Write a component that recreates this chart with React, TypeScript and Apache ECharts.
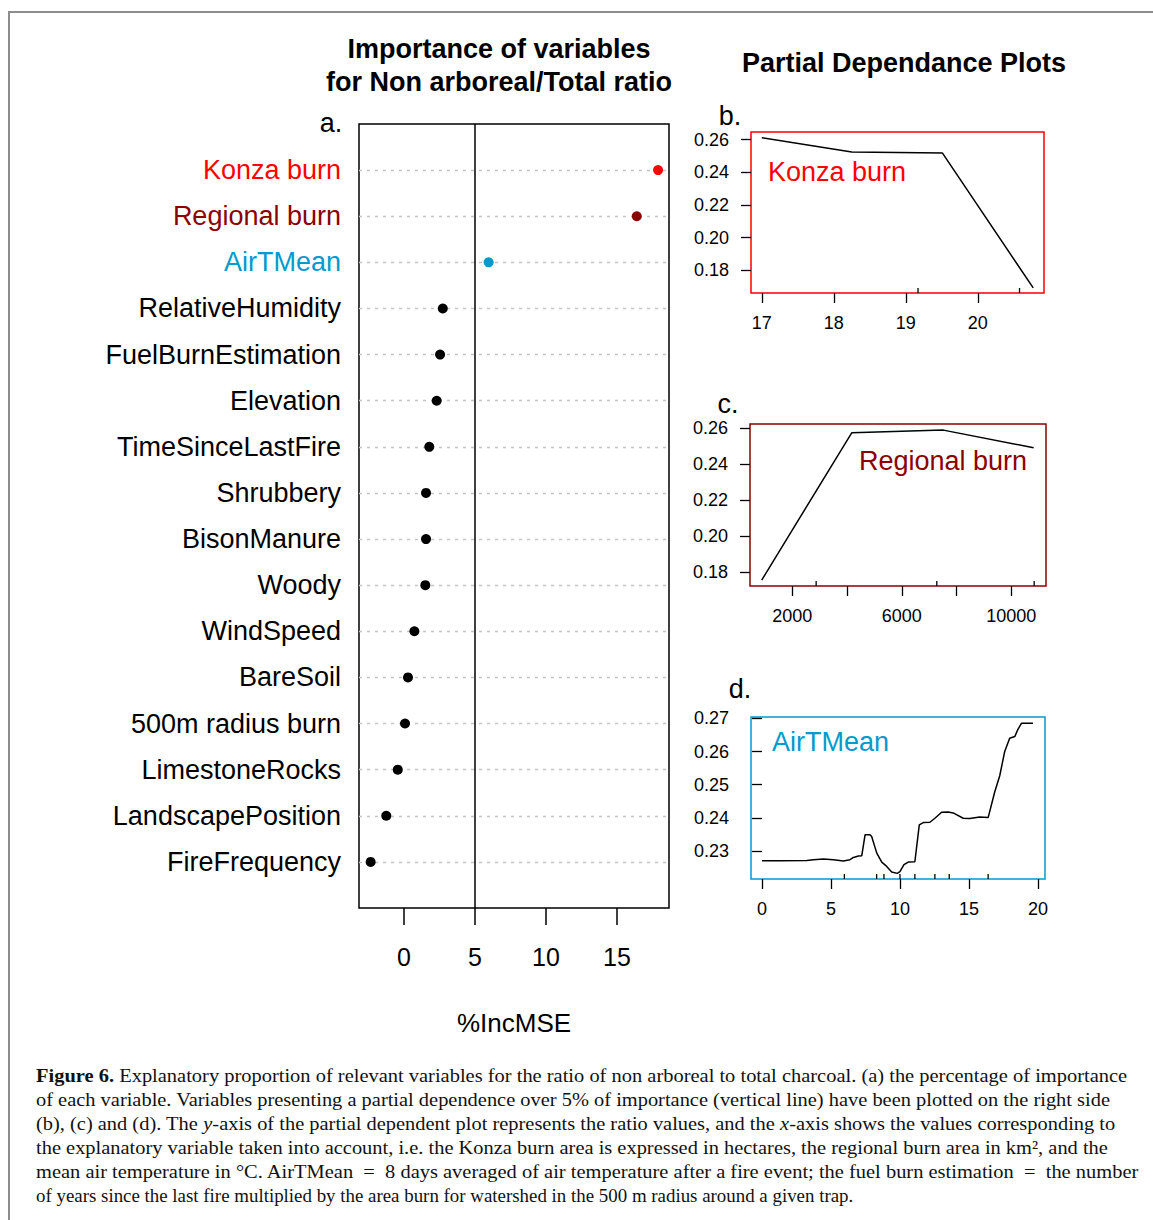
import React, { useEffect, useRef } from "react";
import * as echarts from "echarts";

// ---------- data ----------
const variables = [
  "Konza burn",
  "Regional burn",
  "AirTMean",
  "RelativeHumidity",
  "FuelBurnEstimation",
  "Elevation",
  "TimeSinceLastFire",
  "Shrubbery",
  "BisonManure",
  "Woody",
  "WindSpeed",
  "BareSoil",
  "500m radius burn",
  "LimestoneRocks",
  "LandscapePosition",
  "FireFrequency",
];
const incMSE = [17.89, 16.39, 5.96, 2.73, 2.54, 2.3, 1.78, 1.55, 1.55, 1.5, 0.73, 0.28, 0.07, -0.44, -1.25, -2.35];
const importanceThreshold = 5;
const mainTicks = [0, 5, 10, 15];

// b. Konza burn partial dependence
const konzaX = [17.0, 18.25, 19.51, 20.77];
const konzaY = [0.2612, 0.2524, 0.2518, 0.1692];
const konzaRug = [19.17, 20.58];
const konzaXTicks = [17, 18, 19, 20];
const konzaYTicks = [0.18, 0.2, 0.22, 0.24, 0.26];

// c. Regional burn partial dependence
const regionalX = [880, 4170, 7520, 10820];
const regionalY = [0.1754, 0.2572, 0.2587, 0.2489];
const regionalRug = [2870, 7280, 10840];
const regionalXTicks = [2000, 4000, 6000, 8000, 10000];
const regionalXLabels = [2000, 6000, 10000];
const regionalYTicks = [0.18, 0.2, 0.22, 0.24, 0.26];

// d. AirTMean partial dependence
const airX = [0.0, 1.32, 3.25, 3.73, 4.45, 5.18, 5.9, 6.38, 6.63, 6.99, 7.23, 7.47, 7.83, 7.95, 8.32, 8.68, 9.04, 9.4, 9.81, 10.0, 10.29, 10.6, 11.08, 11.4, 11.69, 12.17, 12.53, 13.02, 13.49, 13.86, 14.58, 15.06, 15.78, 16.39, 16.87, 17.23, 17.59, 17.95, 18.32, 18.55, 18.8, 19.64];
const airY = [0.2271, 0.2271, 0.2272, 0.2274, 0.2276, 0.2274, 0.227, 0.2274, 0.2281, 0.2285, 0.2286, 0.2349, 0.2349, 0.2344, 0.2294, 0.2267, 0.2254, 0.2237, 0.2233, 0.2238, 0.2259, 0.2267, 0.2268, 0.2379, 0.2386, 0.2387, 0.2399, 0.2417, 0.2418, 0.2415, 0.2399, 0.2398, 0.2403, 0.2401, 0.2479, 0.2527, 0.26, 0.264, 0.2645, 0.2667, 0.2685, 0.2685];
const airRug = [5.97, 8.31, 8.84, 10.0, 11.08, 12.53, 13.57, 16.39];
const airXTicks = [0, 5, 10, 15, 20];
const airYTicks = [0.23, 0.24, 0.25, 0.26, 0.27];

const captionLines = [
  "{b|Figure 6.} Explanatory proportion of relevant variables for the ratio of non arboreal to total charcoal. (a) the percentage of importance",
  "of each variable. Variables presenting a partial dependence over 5% of importance (vertical line) have been plotted on the right side",
  "(b), (c) and (d). The {i|y}-axis of the partial dependent plot represents the ratio values, and the {i|x}-axis shows the values corresponding to",
  "the explanatory variable taken into account, i.e. the Konza burn area is expressed in hectares, the regional burn area in km², and the",
  "mean air temperature in °C. AirTMean  =  8 days averaged of air temperature after a fire event; the fuel burn estimation  =  the number",
  "of years since the last fire multiplied by the area burn for watershed in the 500 m radius around a given trap.",
];
// horizontal stretch of each caption line (justified text in the original)
const captionStretch = [1.077, 1.075, 1.075, 1.076, 1.077, 0.995];

// ---------- styles ----------
const SANS = "'Liberation Sans', Arial, Helvetica, sans-serif";
const SERIF = "'Liberation Serif', 'Times New Roman', serif";
const RED = "#ff0000";
const DARKRED = "#8b0000";
const BLUE = "#009acd";
const highlight: Record<string, string> = {
  "Konza burn": RED,
  "Regional burn": DARKRED,
  AirTMean: BLUE,
};
const colorKey: Record<string, string> = { [RED]: "kr", [DARKRED]: "kd", [BLUE]: "kb", "#000000": "kn" };
const colorOf = (name: string) => highlight[name] || "#000000";

const N = variables.length;

// axis ranges (R default 4% expansion)
const mainX = { min: -3.17, max: 18.66 };
const bX = { min: 16.85, max: 20.92 };
const bY = { min: 0.1661, max: 0.2647 };
const cX = { min: 452, max: 11272 };
const cY = { min: 0.1721, max: 0.2621 };
const dX = { min: -0.795, max: 20.51 };
const dY = { min: 0.2216, max: 0.2704 };

const tickLine = { color: "#000", width: 1.3 };

function smallX(gridIndex: number, r: { min: number; max: number }, ticks: number[], labels: number[]) {
  return {
    type: "value",
    gridIndex,
    min: r.min,
    max: r.max,
    axisLine: { show: false },
    splitLine: { show: false },
    axisTick: { show: true, customValues: ticks, length: 10, lineStyle: tickLine },
    axisLabel: {
      show: true,
      customValues: labels,
      margin: 21,
      fontSize: 18,
      color: "#000",
      fontFamily: SANS,
      formatter: (v: number) => String(v),
    },
  };
}
function smallY(gridIndex: number, r: { min: number; max: number }, ticks: number[]) {
  return {
    type: "value",
    gridIndex,
    min: r.min,
    max: r.max,
    axisLine: { show: false },
    splitLine: { show: false },
    axisTick: { show: true, customValues: ticks, length: 10, lineStyle: tickLine },
    axisLabel: {
      show: true,
      customValues: ticks,
      margin: 22,
      fontSize: 18,
      color: "#000",
      fontFamily: SANS,
      formatter: (v: number) => Number(v).toFixed(2),
    },
  };
}
function pdLine(idx: number, xs: number[], ys: number[]) {
  return {
    type: "line",
    xAxisIndex: idx,
    yAxisIndex: idx,
    data: xs.map((x, i) => [x, ys[i]]),
    showSymbol: false,
    symbol: "none",
    lineStyle: { color: "#000", width: 1.5 },
    z: 3,
  };
}
function rug(idx: number, xs: number[], ymin: number) {
  return {
    type: "scatter",
    xAxisIndex: idx,
    yAxisIndex: idx,
    data: xs.map((x) => [x, ymin]),
    symbol: "rect",
    symbolSize: [1.3, 5],
    symbolOffset: [0, -2.5],
    itemStyle: { color: "#000", opacity: 1 },
    clip: false,
  };
}

function buildOption() {
  const richLabel: Record<string, any> = {};
  [RED, DARKRED, BLUE, "#000000"].forEach((c) => {
    richLabel[colorKey[c]] = { color: c, fontSize: 27, fontFamily: SANS };
  });

  const txt = (text: string, x: number, y: number, opts: any = {}) => ({
    type: "text",
    x,
    y,
    style: {
      text,
      fontFamily: SANS,
      fontSize: 27,
      fill: "#000",
      textAlign: "center",
      textVerticalAlign: "middle",
      ...opts,
    },
  });

  const graphic: any[] = [
    {
      type: "rect",
      shape: { x: 9, y: 12, width: 1300, height: 1400 },
      style: { fill: "none", stroke: "#8c8c8c", lineWidth: 2 },
      silent: true,
    },
    txt("Importance of variables", 499, 49, { fontWeight: "bold" }),
    txt("for Non arboreal/Total ratio", 499, 82, { fontWeight: "bold" }),
    txt("Partial Dependance Plots", 904, 63, { fontWeight: "bold" }),
    txt("a.", 331, 123),
    txt("b.", 730, 116),
    txt("c.", 728, 404),
    txt("d.", 740, 689),
    txt("Konza burn", 768, 172, { fill: RED, textAlign: "left" }),
    txt("Regional burn", 859, 461, { fill: DARKRED, textAlign: "left" }),
    txt("AirTMean", 772, 742, { fill: BLUE, textAlign: "left" }),
  ];
  captionLines.forEach((line, i) => {
    graphic.push({
      type: "text",
      x: 36,
      y: 1075 + i * 24,
      scaleX: captionStretch[i],
      style: {
        text: line,
        fontFamily: SERIF,
        fontSize: 19,
        fill: "#111",
        textAlign: "left",
        textVerticalAlign: "middle",
        rich: {
          b: { fontWeight: "bold", fontFamily: SERIF, fontSize: 19, fill: "#111" },
          i: { fontStyle: "italic", fontFamily: SERIF, fontSize: 19, fill: "#111" },
        },
      },
    });
  });

  return {
    animation: false,
    backgroundColor: "#ffffff",
    textStyle: { fontFamily: SANS },
    grid: [
      { left: 359, top: 124, width: 310, height: 784, show: true, borderColor: "#000", borderWidth: 1.5, backgroundColor: "transparent" },
      { left: 751, top: 132, width: 293, height: 161, show: true, borderColor: RED, borderWidth: 1.5, backgroundColor: "transparent" },
      { left: 750, top: 424, width: 296, height: 162, show: true, borderColor: DARKRED, borderWidth: 1.5, backgroundColor: "transparent" },
      { left: 751, top: 717, width: 294, height: 162, show: true, borderColor: BLUE, borderWidth: 1.5, backgroundColor: "transparent" },
    ],
    xAxis: [
      {
        type: "value",
        gridIndex: 0,
        min: mainX.min,
        max: mainX.max,
        axisLine: { show: false },
        splitLine: { show: false },
        axisTick: { show: true, customValues: mainTicks, length: 17, lineStyle: { color: "#000", width: 1.5 } },
        axisLabel: { show: true, customValues: mainTicks, margin: 36, fontSize: 25, color: "#000", fontFamily: SANS },
        name: "%IncMSE",
        nameLocation: "middle",
        nameGap: 102,
        nameTextStyle: { fontSize: 26, color: "#000", fontFamily: SANS },
      },
      smallX(1, bX, konzaXTicks, konzaXTicks),
      smallX(2, cX, regionalXTicks, regionalXLabels),
      smallX(3, dX, airXTicks, airXTicks),
    ],
    yAxis: [
      {
        type: "value",
        gridIndex: 0,
        min: 0,
        max: N + 1,
        interval: 1,
        axisLine: { show: false },
        axisTick: { show: false },
        splitLine: { show: false },
        axisLabel: {
          show: true,
          margin: 18,
          fontSize: 27,
          fontFamily: SANS,
          formatter: (v: number) => {
            const i = N - Math.round(v);
            if (i < 0 || i >= N) return "";
            const name = variables[i];
            return `{${colorKey[colorOf(name)]}|${name}}`;
          },
          rich: richLabel,
        },
      },
      smallY(1, bY, konzaYTicks),
      smallY(2, cY, regionalYTicks),
      smallY(3, dY, airYTicks),
    ],
    series: [
      {
        // dotted row guides + importance threshold line
        type: "line",
        xAxisIndex: 0,
        yAxisIndex: 0,
        data: [],
        z: 1,
        markLine: {
          silent: true,
          z: 1,
          symbol: "none",
          label: { show: false },
          data: [
            ...variables.map((_, i) => ({
              yAxis: N - i,
              lineStyle: { color: "#c4c4c4", type: [3, 5], width: 1.3 },
            })),
            { xAxis: importanceThreshold, lineStyle: { color: "#000", type: "solid", width: 1.5 } },
          ],
        },
      },
      {
        type: "scatter",
        xAxisIndex: 0,
        yAxisIndex: 0,
        symbolSize: 10,
        data: variables.map((name, i) => ({
          value: [incMSE[i], N - i],
          itemStyle: { color: colorOf(name), opacity: 1 },
        })),
        z: 10,
      },
      pdLine(1, konzaX, konzaY),
      rug(1, konzaRug, bY.min),
      pdLine(2, regionalX, regionalY),
      rug(2, regionalRug, cY.min),
      pdLine(3, airX, airY),
      rug(3, airRug, dY.min),
    ],
    graphic,
  };
}

export default function App() {
  const ref = useRef<HTMLDivElement>(null);
  useEffect(() => {
    if (!ref.current) return;
    const chart = echarts.init(ref.current, null, { renderer: "svg" });
    chart.setOption(buildOption() as any);
    return () => chart.dispose();
  }, []);
  return (
    <div
      ref={ref}
      style={{ position: "absolute", left: 0, top: 0, width: 1153, height: 1220, background: "#fff" }}
    />
  );
}
